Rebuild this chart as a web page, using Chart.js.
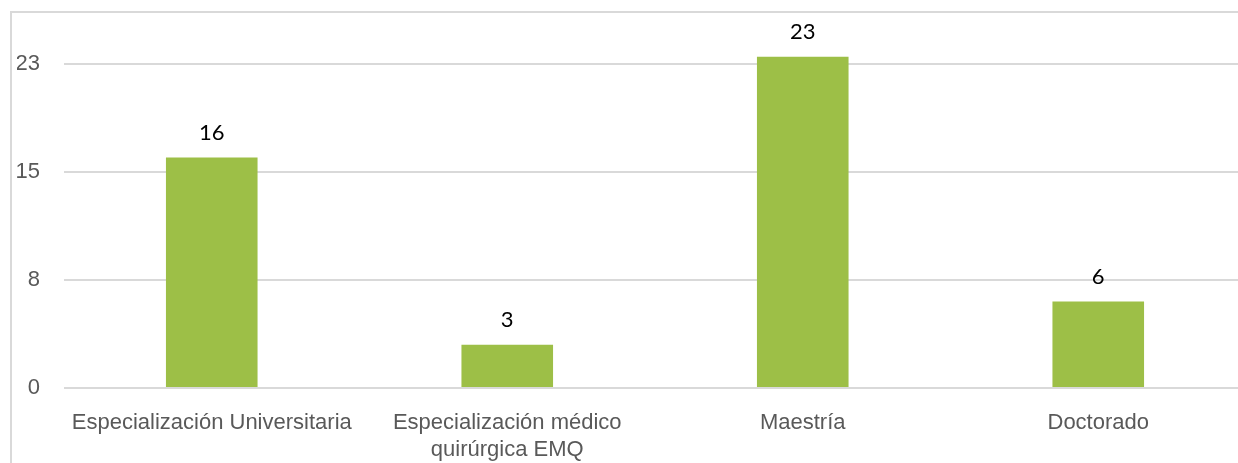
<!DOCTYPE html>
<html lang="es">
<head>
    <meta charset="UTF-8">
    <title>Programas</title>
    <script src="https://cdn.jsdelivr.net/npm/chart.js"></script>
    <style>
        html, body {
            margin: 0;
            padding: 0;
            background: #ffffff;
            overflow: hidden;
        }
        .frame {
            position: absolute;
            left: 10px;
            top: 11px;
            width: 1240px;
            height: 470px;
            border-left: 2px solid #d9d9d9;
            border-top: 2px solid #d9d9d9;
        }
        .chart-box {
            position: absolute;
            left: 0;
            top: 0;
            width: 1246px;
            height: 463px;
        }
    </style>
</head>
<body>
    <div class="frame"></div>
    <div class="chart-box">
        <canvas id="chart"></canvas>
    </div>

    <script>
        const categories = [
            'Especialización Universitaria',
            ['Especialización médico', 'quirúrgica EMQ'],
            'Maestría',
            'Doctorado'
        ];
        const values = [16, 3, 23, 6];
        const yTicks = [0, 7.5, 15, 22.5];

        const labelFont = "'Liberation Sans', Arial, sans-serif";

        // value labels above each bar
        const barLabels = {
            id: 'barLabels',
            afterDatasetsDraw(chart) {
                const ctx = chart.ctx;
                const meta = chart.getDatasetMeta(0);
                ctx.save();
                ctx.fillStyle = '#000000';
                ctx.font = "22px Lato, 'Open Sans', sans-serif";
                ctx.textAlign = 'center';
                ctx.textBaseline = 'middle';
                meta.data.forEach((bar, i) => {
                    ctx.fillText(String(values[i]), bar.x, bar.y - 25);
                });
                ctx.restore();
            }
        };

        new Chart(document.getElementById('chart'), {
            type: 'bar',
            data: {
                labels: categories,
                datasets: [{
                    data: values,
                    backgroundColor: '#9dbf47',
                    borderWidth: 0,
                    barPercentage: 0.31,
                    categoryPercentage: 1
                }]
            },
            options: {
                responsive: true,
                maintainAspectRatio: false,
                animation: false,
                layout: {
                    padding: { left: 17, top: 12, right: 0, bottom: 0 }
                },
                plugins: {
                    legend: { display: false },
                    tooltip: { enabled: false }
                },
                scales: {
                    x: {
                        grid: { display: false, drawTicks: false },
                        border: { display: false },
                        ticks: {
                            color: '#595959',
                            font: { family: labelFont, size: 22, lineHeight: 1.23 },
                            padding: 21,
                            maxRotation: 0,
                            autoSkip: false
                        },
                        afterFit(scale) { scale.height = 75; }
                    },
                    y: {
                        min: 0,
                        max: 26.1,
                        grid: {
                            color: '#d9d9d9',
                            lineWidth: 2,
                            drawTicks: false
                        },
                        border: { display: false },
                        afterBuildTicks(scale) {
                            scale.ticks = yTicks.map(v => ({ value: v }));
                        },
                        ticks: {
                            color: '#595959',
                            font: { family: labelFont, size: 22 },
                            padding: 24,
                            callback: v => Math.round(v)
                        },
                        afterFit(scale) {
                            scale.width = 47;
                            scale.paddingTop = 0;
                            scale.paddingBottom = 0;
                        }
                    }
                }
            },
            plugins: [barLabels]
        });
    </script>
</body>
</html>
